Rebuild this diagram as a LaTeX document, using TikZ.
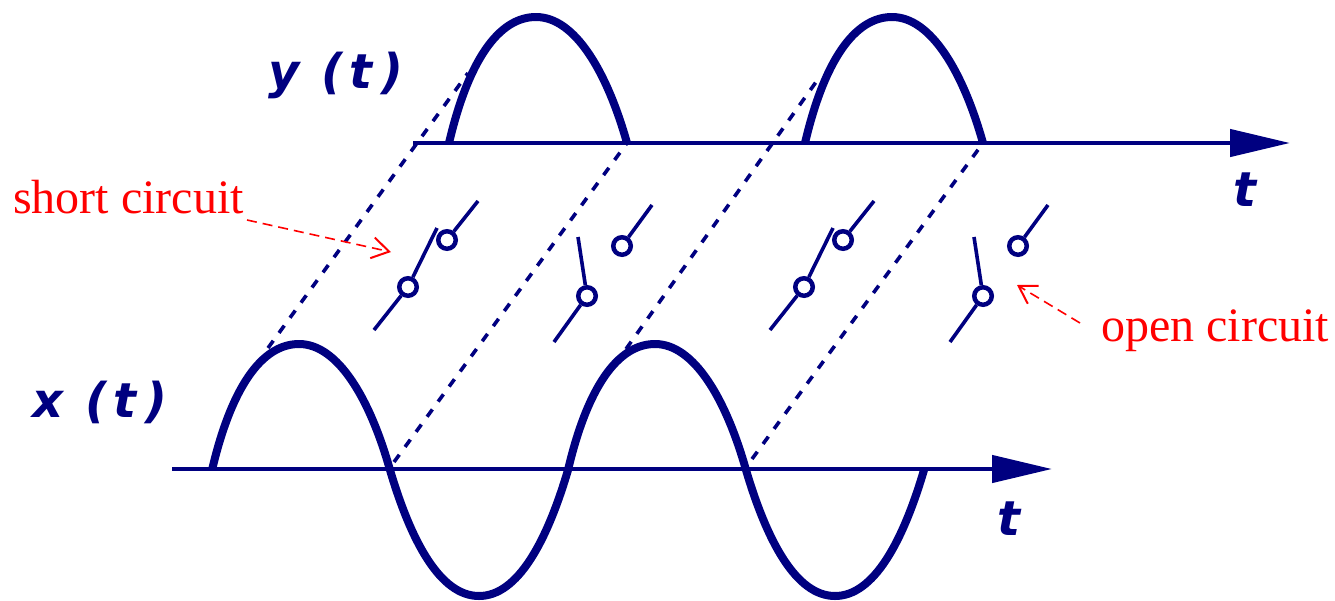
\documentclass[tikz,border=0pt]{standalone}
\usepackage{fontspec}
\setmainfont{Liberation Serif}
\newfontfamily\sigfont{DejaVu Sans}
\usetikzlibrary{arrows.meta}
\definecolor{signavy}{HTML}{000080}
\newcommand{\sigword}[2]{#1\hspace{22pt}(\hspace{6pt}#2\hspace{9pt})}
\newcommand{\uplobe}{.. controls +(19,-81) and +(-38,0) .. ++(87,-126) .. controls +(39,0) and +(-20,-71) .. ++(91,126)}
\newcommand{\downlobe}{.. controls +(21,71) and +(-39,0) .. ++(89,126) .. controls +(39,0) and +(-21,71) .. ++(89,-126)}
\tikzset{
  axisline/.style={signavy, line width=4.5pt, -{Triangle[length=60pt,width=27pt]}},
  waveline/.style={signavy, line width=8pt, line join=round},
  slantline/.style={signavy, line width=3.6pt, dash pattern=on 9pt off 9.7pt},
  contactline/.style={signavy, line width=3.6pt},
  contact/.style={circle, draw=signavy, line width=4.5pt, fill=white, minimum size=17.5pt, inner sep=0pt},
  siglabel/.style={signavy, anchor=base west, inner sep=0pt, font=\sigfont\bfseries\itshape\fontsize{48}{48}\selectfont},
  notelabel/.style={red, anchor=base west, inner sep=0pt, font=\fontsize{48}{48}\selectfont},
  notearrow/.style={red, line width=1.6pt, dash pattern=on 10pt off 6pt, -{Straight Barb[length=17pt,width=21pt,line width=2pt]}},
}
\begin{document}
\begin{tikzpicture}[x=1pt,y=-1pt]
  \useasboundingbox (0,0) rectangle (1335,600);
  % axes
  \coordinate (xstart) at (172,469);
  \coordinate (xend) at (1052,469);
  \coordinate (ystart) at (413,143);
  \coordinate (yend) at (1290,143);
  % slanted lines between the two plots
  \foreach \n/\xa/\ya/\xb/\yb in {a/268/348/468/73,b/394/462/627/143,c/626/349/821/75,d/752/459/983/143} {
    \coordinate (low\n) at (\xa,\ya);
    \coordinate (up\n) at (\xb,\yb);
    \draw[slantline] (low\n) -- (up\n);
  }
  \draw[axisline] (xstart) -- (xend);
  \draw[axisline] (ystart) -- (yend);
  % input and rectified output
  \draw[waveline] (212,470) \uplobe \downlobe \uplobe \downlobe;
  \foreach \s in {449,805} {
    \draw[waveline] (\s,143) \uplobe;
  }
  % closed switches
  \foreach \n/\d in {a/0,c/396} {
    \coordinate (in\n) at (\d+374,330);
    \coordinate (arm\n) at (\d+437,228);
    \coordinate (out\n) at (\d+478,201);
    \node[contact] (left\n) at (\d+408,287) {};
    \node[contact] (right\n) at (\d+447,240) {};
    \draw[contactline] (in\n) -- (left\n);
    \draw[contactline] (left\n) -- (arm\n);
    \draw[contactline] (right\n) -- (out\n);
  }
  % open switches
  \foreach \n/\d in {b/0,d/396} {
    \coordinate (in\n) at (\d+554,342);
    \coordinate (arm\n) at (\d+578,237);
    \coordinate (out\n) at (\d+652,205);
    \node[contact] (left\n) at (\d+587,296) {};
    \node[contact] (right\n) at (\d+622,246) {};
    \draw[contactline] (in\n) -- (left\n);
    \draw[contactline] (left\n) -- (arm\n);
    \draw[contactline] (right\n) -- (out\n);
  }
  \node[siglabel] (ylabel) at (268,88) {\sigword{y}{t}};
  \node[siglabel] (xlabel) at (32,417) {\sigword{x}{t}};
  \node[siglabel] (ytime) at (1233,206) {t};
  \node[siglabel] (xtime) at (997,535) {t};
  \node[notelabel] (short) at (13,213) {short circuit};
  \node[notelabel] (open) at (1101,341) {open circuit};
  \coordinate (shortfrom) at (247,220);
  \coordinate (shortto) at (391,252);
  \coordinate (openfrom) at (1080,323);
  \coordinate (opento) at (1017,285);
  \draw[notearrow] (shortfrom) -- (shortto);
  \draw[notearrow] (openfrom) -- (opento);
\end{tikzpicture}
\end{document}
